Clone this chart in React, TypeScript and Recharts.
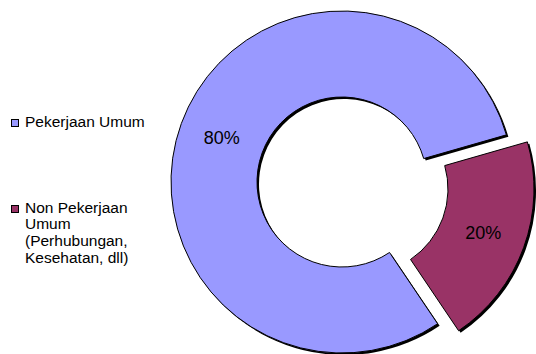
import { PieChart, Pie, Cell, Legend } from "recharts";

const categories = ["Pekerjaan Umum", "Non Pekerjaan Umum (Perhubungan, Kesehatan, dll)"];
const legendLines = [["Pekerjaan Umum"], ["Non Pekerjaan", "Umum", "(Perhubungan,", "Kesehatan, dll)"]];
const shares = [80, 20];
const colors = ["#9999FF", "#993366"];

const data = categories.map((name, i) => ({ name, value: shares[i] }));

const FONT = "'Liberation Sans', Arial, sans-serif";
const CX = 342;
const CY = 182;
const INNER = 85;
const OUTER = 171;
// exploded slice offset (~22px along its mid angle)
const EX = 21;
const EY = 7;
const SH = 2;

const makeLabel = (only: number) => (props: any) => {
  if (props.index !== only) return null;
  const RAD = Math.PI / 180;
  const r = (props.innerRadius + props.outerRadius) / 2;
  const x = props.cx + r * Math.cos(-props.midAngle * RAD);
  const y = props.cy + r * Math.sin(-props.midAngle * RAD);
  return (
    <text x={x} y={y} fill="#000" textAnchor="middle" dominantBaseline="central" fontSize={18} fontFamily={FONT}>
      {`${Math.round(props.percent * 100)}%`}
    </text>
  );
};

const renderLegend = () => (
  <div style={{ fontFamily: FONT, fontSize: 15.5, lineHeight: "16.7px", color: "#000" }}>
    {legendLines.map((lines, i) => (
      <div key={i} style={{ display: "flex", alignItems: "flex-start", marginBottom: i === 0 ? 69 : 0 }}>
        <span
          style={{
            display: "inline-block",
            width: 6,
            height: 6,
            background: colors[i],
            border: "1px solid #000",
            marginTop: 5,
            marginRight: 6,
            flexShrink: 0,
          }}
        />
        <span>
          {lines.map((l, j) => (
            <div key={j}>{l}</div>
          ))}
        </span>
      </div>
    ))}
  </div>
);

const App = () => {
  return (
    <div style={{ position: "absolute", left: 0, top: 0, width: 536, height: 354, background: "#fff" }}>
      <PieChart width={536} height={354} margin={{ top: 0, right: 0, bottom: 0, left: 0 }}>
        {/* shadows */}
        <Pie data={data} dataKey="value" cx={CX + SH} cy={CY + SH} innerRadius={INNER} outerRadius={OUTER}
          startAngle={16} endAngle={376} isAnimationActive={false} stroke="none">
          <Cell fill="#000" stroke="none" />
          <Cell fill="none" stroke="none" />
        </Pie>
        <Pie data={data} dataKey="value" cx={CX + EX + SH} cy={CY + EY + SH} innerRadius={INNER} outerRadius={OUTER}
          startAngle={16} endAngle={376} isAnimationActive={false} stroke="none">
          <Cell fill="none" stroke="none" />
          <Cell fill="#000" stroke="none" />
        </Pie>
        {/* main slice */}
        <Pie data={data} dataKey="value" cx={CX} cy={CY} innerRadius={INNER} outerRadius={OUTER}
          startAngle={16} endAngle={376} isAnimationActive={false} labelLine={false} label={makeLabel(0)}>
          <Cell fill={colors[0]} stroke="#000" strokeWidth={1} />
          <Cell fill="none" stroke="none" />
        </Pie>
        {/* exploded slice */}
        <Pie data={data} dataKey="value" cx={CX + EX} cy={CY + EY} innerRadius={INNER} outerRadius={OUTER}
          startAngle={16} endAngle={376} isAnimationActive={false} labelLine={false} label={makeLabel(1)}>
          <Cell fill="none" stroke="none" />
          <Cell fill={colors[1]} stroke="#000" strokeWidth={1} />
        </Pie>
        <Legend content={renderLegend} layout="vertical" wrapperStyle={{ left: 11, top: 114, width: 160 }} />
      </PieChart>
    </div>
  );
};

export default App;
